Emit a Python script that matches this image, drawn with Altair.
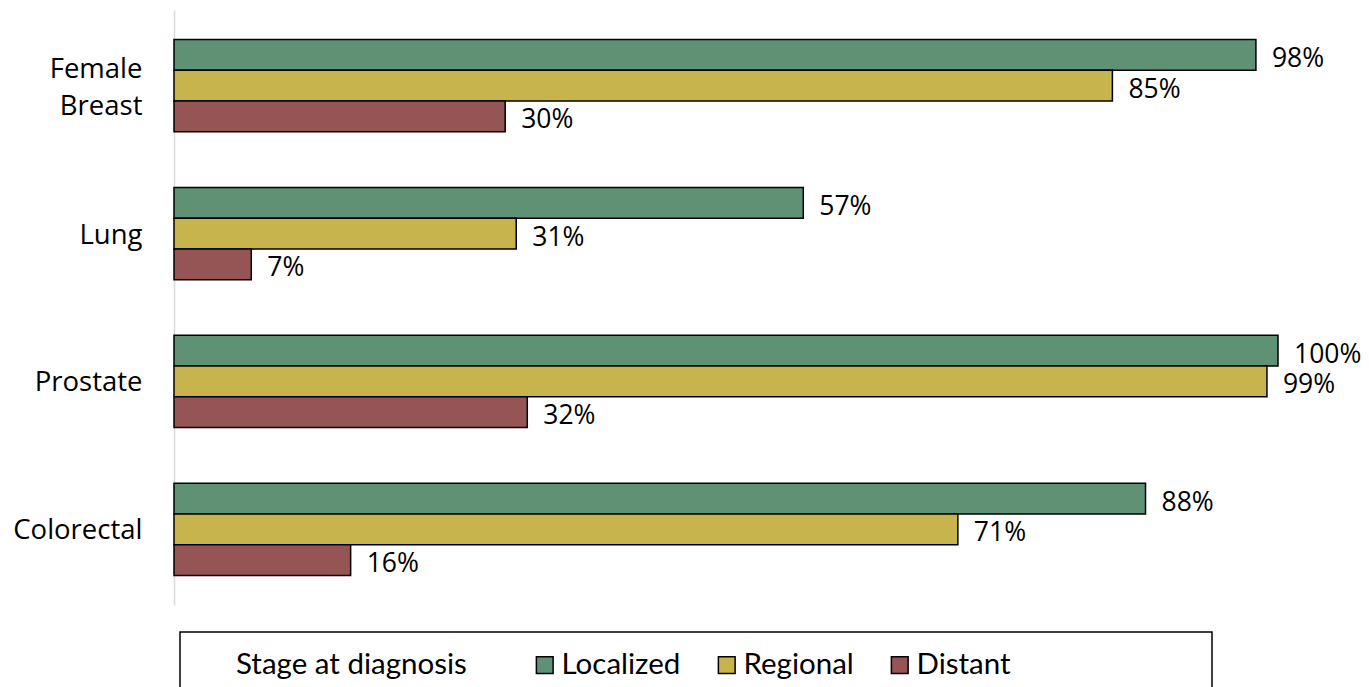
import altair as alt
import pandas as pd

cancers = ["Female Breast", "Lung", "Prostate", "Colorectal"]
stages = ["Localized", "Regional", "Distant"]
localized = [98, 57, 100, 88]
regional = [85, 31, 99, 71]
distant = [30, 7, 32, 16]
colors = ["#5f9275", "#c8b44c", "#955555"]

rows = []
for i, c in enumerate(cancers):
    for s, vals in zip(stages, [localized, regional, distant]):
        rows.append({"cancer": c, "stage": s, "value": vals[i], "label": f"{vals[i]}%"})
df = pd.DataFrame(rows)

FONT = "Open Sans"
LFONT = "Lato"

y_enc = alt.Y("cancer:N", sort=cancers, title=None,
              scale=alt.Scale(paddingInner=0.376, paddingOuter=0.2),
              axis=alt.Axis(domainColor="#d9d9d9", domainWidth=1.5, ticks=False,
                            labelFontSize=27.5, labelFont=FONT, labelColor="black",
                            labelPadding=32, labelLineHeight=37,
                            labelOffset=alt.expr("datum.value == 'Female Breast' ? -16 : 2"),
                            labelExpr="split(datum.label, ' ')"))
yoff = alt.YOffset("stage:N", sort=stages, scale=alt.Scale(paddingInner=0, paddingOuter=0))
x_enc = alt.X("value:Q", scale=alt.Scale(domain=[0, 100]), axis=None)

bars = alt.Chart(df).mark_bar(stroke="black", strokeWidth=1.5, cornerRadius=0).encode(
    x=x_enc, y=y_enc, yOffset=yoff,
    color=alt.Color("stage:N", sort=stages,
                    scale=alt.Scale(domain=stages, range=colors),
                    legend=alt.Legend(orient="none", legendX=62, legendY=640,
                                      direction="horizontal", title="Stage at diagnosis",
                                      titleOrient="left", titleFontSize=29.5, titleFont=LFONT,
                                      titleFontWeight="normal", titleColor="black",
                                      titlePadding=63, titleBaseline="middle", titleLimit=400,
                                      labelFontSize=29.5, labelFont=LFONT, labelColor="black",
                                      labelLimit=300,
                                      symbolType="square", symbolSize=280,
                                      symbolStrokeColor="black", symbolStrokeWidth=1.5,
                                      labelOffset=2, columnPadding=31)),
)

texts = alt.Chart(df).mark_text(align="left", baseline="middle", dx=16, dy=4,
                                fontSize=26.5, font=FONT, color="black").encode(
    x=x_enc, y=alt.Y("cancer:N", sort=cancers), yOffset=yoff, text="label:N"
)

frame = alt.Chart(pd.DataFrame({"a": [0]})).mark_rect(fill="white", stroke="black", strokeWidth=1.5).encode(
    x=alt.value(6), x2=alt.value(1038), y=alt.value(622), y2=alt.value(700)
)

chart = alt.layer(frame, bars, texts).properties(
    width=1104, height=595,
    padding={"left": 174, "top": 10, "right": 91, "bottom": 82},
    autosize=alt.AutoSizeParams(type="none"),
).configure(background="white").configure_view(stroke=None, strokeWidth=0)

chart.save("out.html", embed_options={"renderer": "svg", "actions": False})
